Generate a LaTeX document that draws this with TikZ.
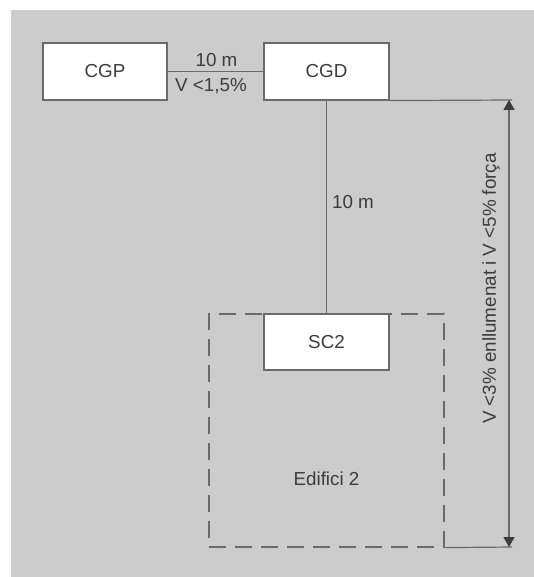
\documentclass[tikz,border=0pt]{standalone}
\usepackage{fontspec}
\setmainfont{Liberation Sans}
\usetikzlibrary{arrows.meta}

\definecolor{bggray}{HTML}{CCCCCC}
\definecolor{linegray}{HTML}{6A6A6A}
\definecolor{textgray}{HTML}{3C3C3C}

\begin{document}
\begin{tikzpicture}
[
	x=1pt,y=-1pt,
	panel/.style={draw=linegray,fill=white,line width=1.2pt,text=textgray,font=\fontsize{18.8}{22}\selectfont},
	wire/.style={draw=linegray,line width=1.2pt},
	lbl/.style={text=textgray,font=\fontsize{18.8}{22}\selectfont,inner sep=0pt},
	dim/.style={draw=linegray,line width=1.2pt,{Triangle[width=11pt,length=10pt,color=textgray]}-{Triangle[width=11pt,length=10pt,color=textgray]}}
]

	% background
	\useasboundingbox (0,0) rectangle (534,577);
	\fill[bggray] (11,10) rectangle (534,577);

	% building
	\node[draw=linegray,line width=1.2pt,dash pattern=on 17pt off 9pt,minimum width=235pt,minimum height=233pt,inner sep=0pt] (edifici) at (326.5,430.5) {};
	\node[lbl] (edificilbl) at (326.5,479) {Edifici 2};

	% boards
	\node[panel,minimum width=124pt,minimum height=57pt,inner sep=0pt] (cgp) at (105,71.5) {CGP};
	\node[panel,minimum width=125pt,minimum height=57pt,inner sep=0pt] (cgd) at (326.5,71.5) {CGD};
	\node[panel,minimum width=125pt,minimum height=56pt,inner sep=0pt,anchor=north] (sc2) at (edifici.north) {SC2};

	% lines
	\draw[wire] (cgp.east) -- (cgd.west);
	\draw[wire] (cgd.south) -- (sc2.north);
	\coordinate (dimtop) at (512,100);
	\coordinate (dimbot) at (512,547);
	\draw[wire] (cgd.south east) -- (dimtop);
	\draw[wire] (edifici.south east) -- (dimbot);
	\draw[dim] (509,100) -- (509,547);

	% labels
	\node[lbl] (len1) at (216.5,60.5) {10 m};
	\node[lbl] (drop1) at (211,86) {V <1,5\%};
	\node[lbl] (len2) at (353,202) {10 m};
	\node[lbl,rotate=90] (drop2) at (491,288.5) {V <3\% enllumenat i V <5\% força};

\end{tikzpicture}
\end{document}
